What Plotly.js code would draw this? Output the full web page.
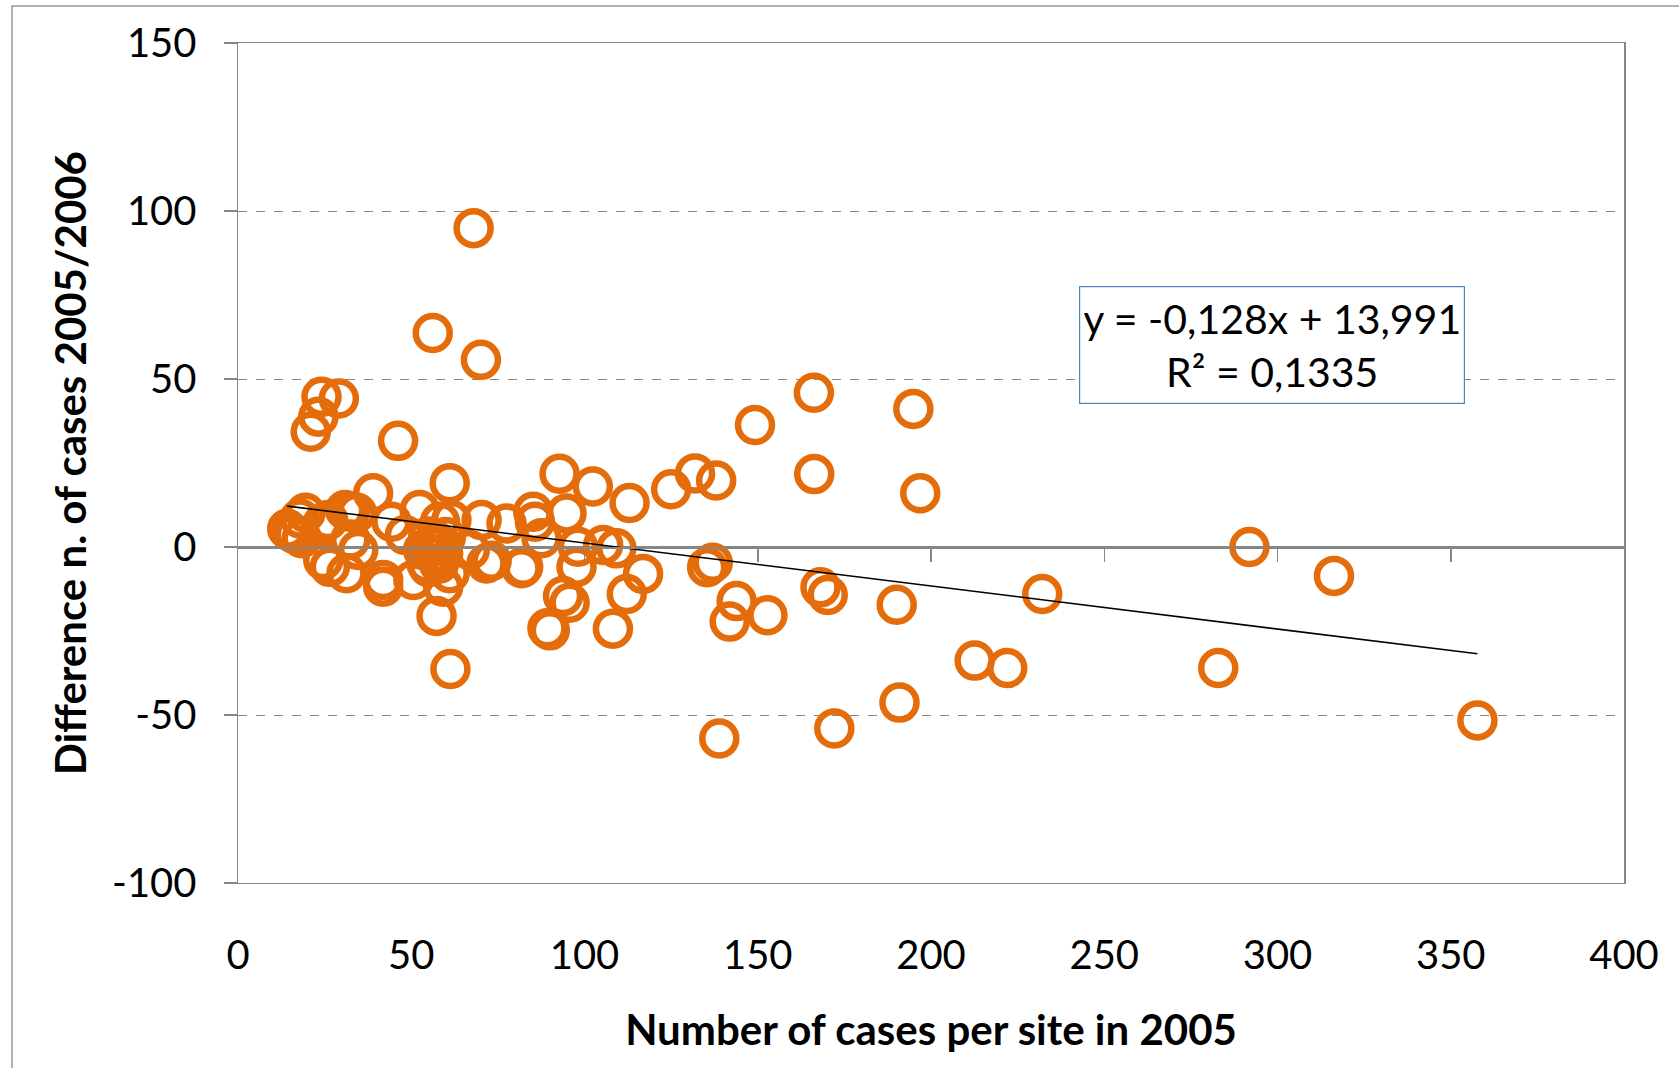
<!DOCTYPE html>
<html>
<head>
<meta charset="utf-8">
<script src="https://cdn.plot.ly/plotly-3.0.1.min.js"></script>
<style>
html,body{margin:0;padding:0;background:#fff;}
#chart{width:1679px;height:1068px;}
</style>
</head>
<body>
<div id="chart"></div>
<script>
// Number of cases per site in 2005
const casesX = [
  68.0, 56.2, 70.1, 24.1, 29.1, 23.2, 21.0, 46.2,
  166.2, 194.9, 149.2, 166.3, 196.9,
  291.9, 316.3, 232.1, 190.1, 212.6, 222.0, 282.9, 190.9, 172.1, 138.9, 357.7, 61.3,
  168.1, 170.2, 152.8, 143.9, 141.9, 135.4, 137.0,
  138.0, 131.9, 125.0, 113.0, 102.4, 92.8, 94.8,
  85.2, 85.7, 87.6, 82.3, 98.1, 97.7, 105.4, 109.2, 116.9, 112.2, 93.8, 95.7, 89.3, 90.0, 108.2,
  61.1, 39.0, 52.4, 30.9, 32.3, 17.9, 15.0, 18.4, 14.2, 16.4, 26.0, 44.3, 58.3, 61.6, 70.3, 77.5,
  48.2, 54.9, 34.7, 24.6, 31.3, 26.5, 41.9, 41.9, 50.6, 53.4, 54.4, 56.8, 59.2, 61.1, 59.2, 57.3,
  71.7, 81.8, 66.9, 19.5, 24.4, 34.3, 32.4, 57.0, 56.0, 58.0, 60.0, 55.0, 58.0, 73.2
];
// Difference n. of cases 2005/2006
const diffY = [
  94.9, 63.7, 55.7, 44.7, 44.2, 38.8, 34.3, 31.6,
  45.9, 41.1, 36.3, 21.7, 16.0,
  0.0, -8.6, -14.0, -17.2, -33.8, -36.0, -36.0, -46.3, -54.0, -57.0, -51.6, -36.3,
  -12.0, -14.3, -20.3, -16.1, -22.2, -6.0, -4.7,
  19.8, 21.9, 17.2, 13.1, 18.0, 21.8, 10.0,
  10.5, 7.5, 2.6, -5.9, 0.1, -5.9, 0.6, -0.4, -8.0, -14.0, -14.6, -16.6, -24.2, -24.8, -24.3,
  19.0, 16.0, 11.0, 11.0, 10.5, 8.5, 4.6, 2.6, 5.4, 3.8, 8.0, 7.5, 7.5, 8.0, 8.0, 7.0,
  3.6, 3.1, -0.9, -3.9, -7.8, -5.9, -9.8, -11.8, -9.8, -0.9, -4.9, 2.1, -1.9, -7.8, -11.8, -20.5,
  -4.9, -6.3, -0.9, 10.2, 7.0, 10.2, 2.2, -3.0, 0.0, 1.0, 3.0, -6.0, -5.0, -4.1
];
// Linear trendline as reported on the chart
const trendSlope = -0.128;
const trendIntercept = 13.991;
const trendLabel = ['y = -0,128x + 13,991', 'R² = 0,1335'];

const xTicks = [0, 50, 100, 150, 200, 250, 300, 350, 400];
const yTicks = [-100, -50, 0, 50, 100, 150];

const W = 1679, H = 1068;
const M = {l: 238, r: 55, t: 43, b: 185};
const pw = W - M.l - M.r, ph = H - M.t - M.b;
const FONT = 'Lato, Carlito, Calibri, sans-serif';
const ORANGE = 'rgb(228,108,10)';
const GRAY = '#868686';

// pixel -> paper helpers for the decorative frame
const px2paperX = p => (p - M.l) / pw;
const px2paperY = p => (H - M.b - p) / ph;

const xMin = Math.min(...casesX), xMax = Math.max(...casesX);
const trendX = [xMin, xMax];
const trendY = trendX.map(v => trendSlope * v + trendIntercept);

const traces = [
  {
    type: 'scatter', mode: 'markers', x: casesX, y: diffY,
    marker: {symbol: 'circle-open', size: 34, color: ORANGE, line: {width: 6.5, color: ORANGE}},
    hoverinfo: 'x+y', showlegend: false
  },
  {
    type: 'scatter', mode: 'lines', x: trendX, y: trendY, xaxis: 'x2', yaxis: 'y',
    line: {color: '#000', width: 1.6}, hoverinfo: 'skip', showlegend: false
  }
];

const layout = {
  width: W, height: H,
  margin: M,
  paper_bgcolor: '#fff', plot_bgcolor: '#fff',
  font: {family: FONT, color: '#000', size: 40},
  showlegend: false,
  xaxis: {
    range: [0, 400], tickvals: xTicks, ticktext: xTicks.map(String),
    showgrid: false, zeroline: false, ticks: '',
    showline: true, mirror: true, linecolor: GRAY, linewidth: 1.2,
    ticklabelstandoff: 37,
    tickfont: {family: FONT, size: 40, color: '#000'},
    title: {text: 'Number of cases per site in 2005', font: {family: FONT, size: 42, color: '#000', weight: 'bold'}, standoff: 38},
    automargin: false, fixedrange: true
  },
  xaxis2: {
    overlaying: 'x', anchor: 'free', position: (0 - (-100)) / 250, side: 'bottom',
    range: [0, 400], tickvals: xTicks.slice(1, -1),
    showticklabels: false, ticks: 'outside', ticklen: 13, tickwidth: 1.5, tickcolor: GRAY,
    showline: true, linecolor: GRAY, linewidth: 1.5,
    showgrid: false, zeroline: false, automargin: false, fixedrange: true
  },
  yaxis: {
    range: [-100, 150], tickvals: yTicks, ticktext: yTicks.map(String),
    showgrid: true, gridcolor: GRAY, gridwidth: 1, griddash: 'dash',
    zeroline: true, zerolinecolor: GRAY, zerolinewidth: 1.5,
    showline: true, linecolor: GRAY, linewidth: 1.5, mirror: true,
    ticks: 'outside', ticklen: 13, tickwidth: 1.5, tickcolor: GRAY,
    ticklabelstandoff: 19,
    tickfont: {family: FONT, size: 40, color: '#000'},
    title: {text: 'Difference n. of cases 2005/2006', font: {family: FONT, size: 42, color: '#000', weight: 'bold'}, standoff: 12},
    automargin: false, fixedrange: true
  },
  shapes: [
    {type: 'rect', xref: 'paper', yref: 'paper', layer: 'below',
     x0: px2paperX(12), x1: px2paperX(W + 20),
     y0: px2paperY(H + 20), y1: px2paperY(6),
     line: {color: '#9a9a9a', width: 1.5}, fillcolor: 'rgba(0,0,0,0)'}
  ],
  annotations: [
    {x: 298.5, y: 60.1, xref: 'x', yref: 'y', showarrow: false,
     text: trendLabel.join('<br>'), align: 'center',
     font: {family: FONT, size: 41, color: '#000'},
     width: 376, height: 108, borderpad: 4,
     bordercolor: 'rgb(79,129,189)', borderwidth: 1.2, bgcolor: '#fff'}
  ]
};

Plotly.newPlot('chart', traces, layout, {displayModeBar: false, staticPlot: true});
</script>
</body>
</html>
